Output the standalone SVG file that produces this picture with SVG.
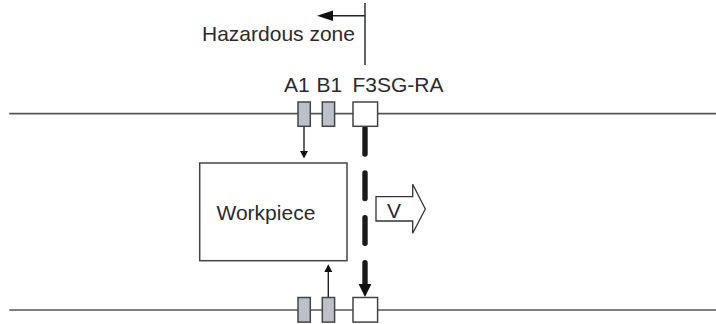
<svg xmlns="http://www.w3.org/2000/svg" width="716" height="324" viewBox="0 0 716 324">
<defs><style>
text{font-family:"Liberation Sans",Arial,sans-serif;font-size:21px;fill:#2b2b2b}
.rail{stroke:#555;stroke-width:1.7;fill:none}
.thin{stroke:#222;stroke-width:1.4;fill:none}
.thick{stroke:#1a1a1a;stroke-width:5.4;fill:none;stroke-linecap:round}
.head{fill:#111;stroke:none}
.gray{fill:#bcc0c8;stroke:#444;stroke-width:1.5}
.white{fill:#fff;stroke:#444;stroke-width:1.5}
</style></defs>
<rect width="716" height="324" fill="#fff"/>
<g id="connectors">
<line class="rail" x1="9.3" y1="113.7" x2="716" y2="113.7"/>
<line class="rail" x1="9.3" y1="310" x2="716" y2="310"/>
<line class="thin" x1="365" y1="3" x2="365" y2="65"/>
<line class="thin" x1="365" y1="15.7" x2="332" y2="15.7"/>
<polygon class="head" points="317,15.7 333,10.5 333,21"/>
<line class="thin" x1="304" y1="126" x2="304" y2="152"/>
<polygon class="head" points="304,158.5 300,151 308,151"/>
<line class="thin" x1="328.3" y1="297" x2="328.3" y2="271"/>
<polygon class="head" points="328.3,264.3 324.3,272 332.3,272"/>
<line class="thick" x1="365" y1="128" x2="365" y2="154"/>
<line class="thick" x1="365" y1="173" x2="365" y2="198.6"/>
<line class="thick" x1="365" y1="217.7" x2="365" y2="243.3"/>
<line class="thick" x1="365" y1="262.7" x2="365" y2="285"/>
<polygon class="head" points="365,297 358.6,284 371.4,284"/>
</g>
<g id="zone-label"><text x="202" y="40.7">Hazardous zone</text></g>
<g id="a1"><rect class="gray" x="298" y="102" width="12.3" height="24.3"/><text x="284" y="91.7">A1</text></g>
<g id="b1"><rect class="gray" x="322.3" y="102" width="12.3" height="24.3"/><text x="316.5" y="91.7">B1</text></g>
<g id="f3sg-ra"><rect class="white" x="353" y="102" width="24.6" height="24.3"/><text x="352.5" y="91.7">F3SG-RA</text></g>
<g id="a2"><rect class="gray" x="298" y="297.5" width="12.3" height="24.6"/></g>
<g id="b2"><rect class="gray" x="322.3" y="297.5" width="12.3" height="24.6"/></g>
<g id="f3sg-rb"><rect class="white" x="353" y="297.5" width="24.6" height="24.6"/></g>
<g id="workpiece"><rect class="white" x="199.7" y="163" width="147.3" height="97.7"/><text x="216.5" y="220">Workpiece</text></g>
<g id="velocity"><polygon fill="#fff" stroke="#333" stroke-width="1.3" points="376,196.7 412.7,196.7 412.7,184.3 425.3,209 412.7,233.3 412.7,221 376,221"/><text x="387" y="217.7">V</text></g>
</svg>
